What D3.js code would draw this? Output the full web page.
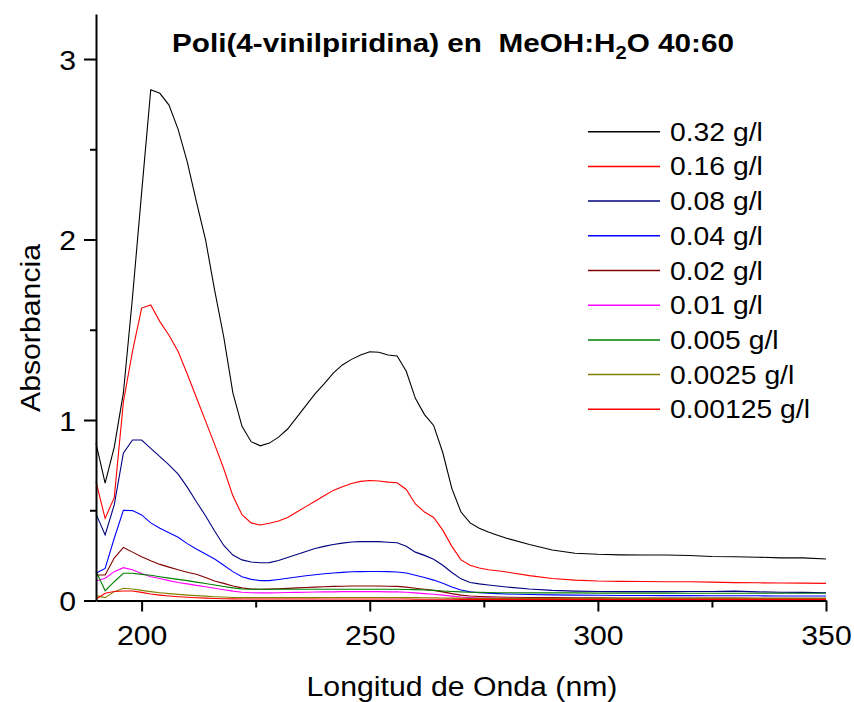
<!DOCTYPE html>
<html>
<head>
<meta charset="utf-8">
<script src="https://cdn.jsdelivr.net/npm/d3@7"></script>
<style>
  body { margin: 0; background: #fff; }
  text { font-family: "Liberation Sans", Arial, sans-serif; fill: #000; }
</style>
</head>
<body>
<div id="chart"></div>
<script>
// wavelengths (nm)
var wavelength = [190,192,194,196,198,200,202,204,206,208,210,212,214,216,218,220,222,224,226,228,
  230,232,234,236,238,240,242,244,246,248,250,252,254,256,258,260,262,264,266,268,
  270,272,274,276,278,280,285,290,295,300,305,310,315,320,325,330,335,340,345,350]

// absorbance of each concentration
var a032 = [0.87,0.65,0.85,1.15,1.68,2.26,2.83,2.81,2.745,2.61, 2.43,2.21,2.0,1.72,1.46,1.15,0.965,0.88,0.857,0.872,
  0.905,0.95,1.015,1.08,1.145,1.20,1.26,1.305,1.336,1.36, 1.378,1.375,1.36,1.355,1.27,1.12,1.03,0.97,0.82,0.62,
  0.49,0.43,0.40,0.38,0.362,0.345,0.31,0.28,0.262,0.256, 0.253,0.252,0.252,0.249,0.244,0.242,0.240,0.236,0.236,0.230]
var a016 = [0.658,0.455,0.57,1.10,1.38,1.62,1.637,1.545,1.47,1.38, 1.255,1.125,0.995,0.865,0.73,0.58,0.475,0.43,0.418,0.428,
  0.44,0.46,0.49,0.52,0.55,0.58,0.61,0.63,0.648,0.66, 0.665,0.662,0.656,0.652,0.615,0.535,0.49,0.46,0.39,0.30,
  0.225,0.195,0.18,0.17,0.165,0.158,0.138,0.122,0.113,0.108, 0.106,0.105,0.104,0.104,0.102,0.099,0.098,0.097,0.096,0.095]
var a008 = [0.48,0.363,0.53,0.816,0.889,0.889,0.843,0.797,0.751,0.70, 0.628,0.547,0.47,0.385,0.305,0.252,0.225,0.213,0.209,0.21,
  0.222,0.238,0.255,0.272,0.288,0.30,0.31,0.318,0.324,0.326, 0.327,0.326,0.323,0.32,0.30,0.268,0.25,0.228,0.195,0.155,
  0.12,0.10,0.092,0.086,0.08,0.075,0.064,0.056,0.052,0.05, 0.049,0.049,0.049,0.05,0.05,0.052,0.048,0.046,0.045,0.043]
var a004 = [0.151,0.178,0.345,0.50,0.498,0.474,0.43,0.40,0.375,0.35, 0.315,0.285,0.258,0.23,0.195,0.16,0.132,0.117,0.11,0.11,
  0.116,0.123,0.13,0.137,0.143,0.148,0.152,0.156,0.159,0.16, 0.161,0.161,0.16,0.158,0.152,0.14,0.127,0.113,0.095,0.075,
  0.058,0.048,0.043,0.04,0.038,0.036,0.033,0.031,0.03,0.029, 0.028,0.028,0.027,0.027,0.026,0.026,0.026,0.025,0.025,0.025]
var a002 = [0.141,0.141,0.235,0.294,0.268,0.243,0.22,0.2,0.185,0.17, 0.157,0.145,0.128,0.108,0.095,0.08,0.07,0.064,0.062,0.063,
  0.065,0.067,0.07,0.072,0.074,0.076,0.078,0.079,0.08,0.08, 0.08,0.08,0.079,0.078,0.074,0.068,0.062,0.056,0.048,0.038,
  0.03,0.025,0.022,0.02,0.019,0.018,0.017,0.016,0.015,0.015, 0.014,0.014,0.014,0.013,0.013,0.013,0.012,0.012,0.012,0.012]
var a001 = [0.108,0.123,0.16,0.182,0.17,0.15,0.132,0.122,0.11,0.1, 0.092,0.084,0.076,0.068,0.06,0.052,0.046,0.043,0.042,0.042,
  0.043,0.044,0.045,0.046,0.047,0.048,0.048,0.049,0.049,0.049, 0.049,0.049,0.048,0.048,0.046,0.042,0.038,0.035,0.03,0.024,
  0.019,0.016,0.014,0.013,0.012,0.012,0.011,0.011,0.011,0.01, 0.01,0.01,0.01,0.01,0.01,0.01,0.01,0.01,0.01,0.01]
var a0005 = [0.163,0.054,0.104,0.151,0.151,0.145,0.14,0.132,0.124,0.117, 0.11,0.102,0.094,0.086,0.078,0.07,0.064,0.062,0.062,0.062,
  0.062,0.062,0.062,0.062,0.062,0.062,0.062,0.062,0.062,0.062, 0.062,0.062,0.062,0.062,0.061,0.06,0.058,0.056,0.053,0.05,
  0.048,0.046,0.045,0.044,0.043,0.043,0.042,0.042,0.042,0.041, 0.041,0.041,0.041,0.04,0.04,0.04,0.04,0.04,0.04,0.04]
var a00025 = [0.027,0.016,0.049,0.068,0.064,0.056,0.049,0.043,0.038,0.034, 0.03,0.027,0.024,0.021,0.019,0.017,0.016,0.016,0.016,0.016,
  0.016,0.016,0.016,0.016,0.016,0.017,0.017,0.017,0.017,0.017, 0.017,0.017,0.017,0.017,0.016,0.016,0.015,0.015,0.014,0.013,
  0.013,0.012,0.012,0.012,0.012,0.012,0.012,0.012,0.012,0.012, 0.012,0.012,0.012,0.012,0.012,0.012,0.012,0.012,0.012,0.012]
var a000125 = [0.007,0.04,0.05,0.053,0.053,0.045,0.036,0.03,0.025,0.021, 0.018,0.015,0.013,0.011,0.01,0.009,0.008,0.008,0.008,0.008,
  0.008,0.008,0.008,0.008,0.008,0.008,0.008,0.008,0.008,0.008, 0.008,0.008,0.008,0.008,0.008,0.007,0.007,0.007,0.007,0.007,
  0.006,0.006,0.006,0.006,0.006,0.006,0.006,0.006,0.006,0.006, 0.006,0.006,0.006,0.006,0.006,0.006,0.006,0.006,0.006,0.006]

var seriesNames = ["0.32 g/l","0.16 g/l","0.08 g/l","0.04 g/l","0.02 g/l","0.01 g/l","0.005 g/l","0.0025 g/l","0.00125 g/l"]
var seriesValues = [a032,a016,a008,a004,a002,a001,a0005,a00025,a000125]

var xMajor = [200,250,300,350]
var xMinor = [225,275,325]
var yMajor = [0,1,2,3]
var yMinor = [0.5,1.5,2.5]

var colors = ["#000000","#ff0000","#000080","#0000ff","#800000","#ff00ff","#008000","#808000","#ff0000"]

// set the dimensions of the graph
var width = 854
var height = 702
var sx = 1.12   // the original text is a bit stretched horizontally

var svg = d3.select("#chart")
  .append("svg")
  .attr("width", width)
  .attr("height", height)

var x = d3.scaleLinear().domain([190, 350]).range([96, 826])
var y = d3.scaleLinear().domain([0, 3.25]).range([600.5, 13.9])

// curves
var line = d3.line()
  .x(function(d) { return x(d[0]) })
  .y(function(d) { return y(d[1]) })

seriesValues.forEach(function(vals, i) {
  svg.append("path")
    .datum(wavelength.map(function(w, j) { return [w, vals[j]] }))
    .attr("d", line)
    .attr("fill", "none")
    .attr("stroke", colors[i])
    .attr("stroke-width", 1.1)
})

// x axis
var xAxis = svg.append("g")
  .attr("transform", "translate(0," + y(0) + ")")
  .call(d3.axisBottom(x).tickValues(xMajor).tickSize(11).tickSizeOuter(0))
xAxis.append("g")
  .call(d3.axisBottom(x).tickValues(xMinor).tickSize(7).tickFormat(""))
  .select(".domain").remove()
xAxis.selectAll("text")
  .attr("y", 44.5).attr("dy", null)
  .attr("transform", "scale(" + sx + ",1)")
  .style("font-size", "27px")
  .style("font-family", "'Liberation Sans', Arial, sans-serif")

// y axis
var yAxis = svg.append("g")
  .attr("transform", "translate(" + x(190) + ",0)")
  .call(d3.axisLeft(y).tickValues(yMajor).tickFormat(d3.format("d")).tickSize(12).tickSizeOuter(0))
yAxis.append("g")
  .call(d3.axisLeft(y).tickValues(yMinor).tickSize(6).tickFormat(""))
  .select(".domain").remove()
yAxis.selectAll("text")
  .attr("x", -20 / sx).attr("dy", null).attr("y", 10)
  .attr("transform", "scale(" + sx + ",1)")
  .style("font-size", "27px")
  .style("font-family", "'Liberation Sans', Arial, sans-serif")

svg.selectAll(".domain, .tick line")
  .attr("stroke", "#000")
  .attr("stroke-width", 2)

// axis titles
svg.append("text")
  .attr("transform", "translate(462,696) scale(" + sx + ",1)")
  .attr("text-anchor", "middle")
  .style("font-size", "27px")
  .text("Longitud de Onda (nm)")

svg.append("text")
  .attr("transform", "translate(40,328) rotate(-90) scale(" + sx + ",1)")
  .attr("text-anchor", "middle")
  .style("font-size", "27px")
  .text("Absorbancia")

// title with subscript
var title = svg.append("text")
  .attr("transform", "translate(453,52) scale(" + sx + ",1)")
  .attr("text-anchor", "middle")
  .style("font-size", "26.5px")
  .style("font-weight", "bold")
  .style("white-space", "pre")
title.append("tspan").text("Poli(4-vinilpiridina) en  MeOH:H")
title.append("tspan").attr("dy", 7).style("font-size", "18px").text("2")
title.append("tspan").attr("dy", -7).text("O 40:60")

// legend
var legend = svg.append("g")
seriesNames.forEach(function(name, i) {
  var ly = 131.7 + i * 34.7
  legend.append("line")
    .attr("x1", 588).attr("x2", 660)
    .attr("y1", ly).attr("y2", ly)
    .attr("stroke", colors[i])
    .attr("stroke-width", 1.5)
  legend.append("text")
    .attr("transform", "translate(670," + (ly + 9) + ") scale(1.11,1)")
    .style("font-size", "25.5px")
    .text(name)
})
</script>
</body>
</html>
